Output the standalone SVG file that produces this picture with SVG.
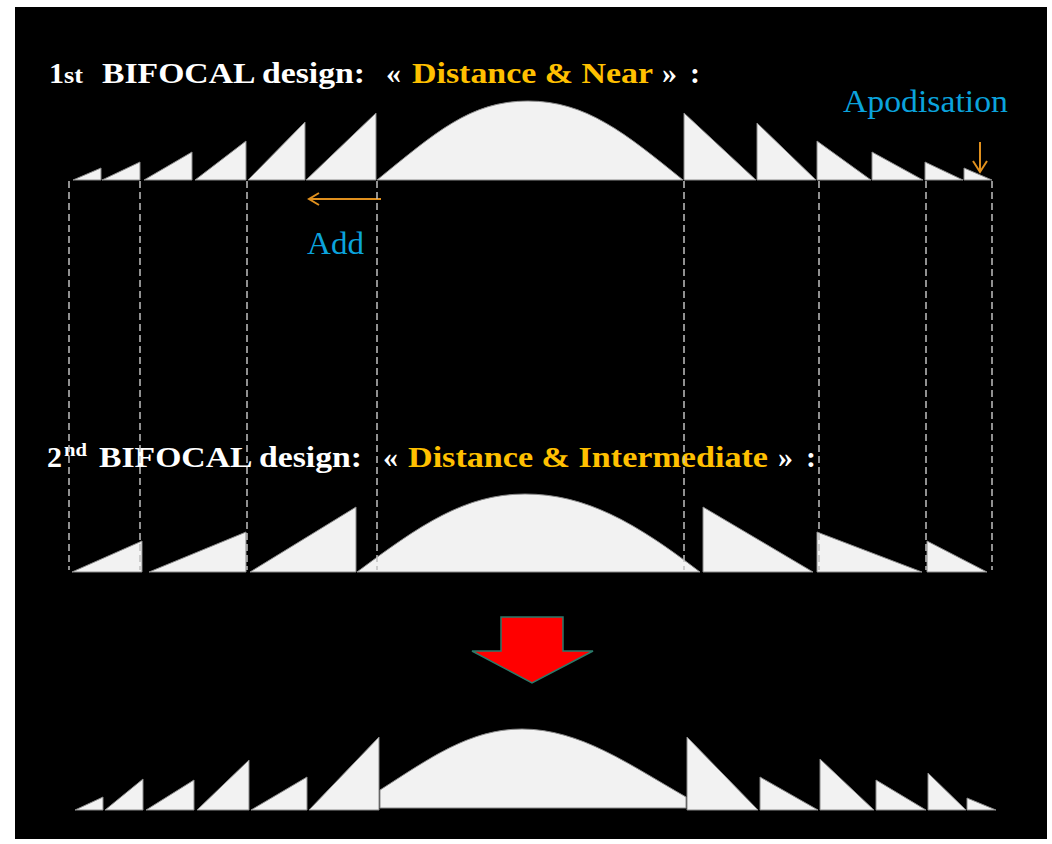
<svg xmlns="http://www.w3.org/2000/svg" width="1052" height="844" viewBox="0 0 1052 844">
<defs>
<style>
.ttl{font-family:"Liberation Serif","Times New Roman",serif;font-weight:bold;font-size:30px;fill:#ffffff;white-space:pre}
.org{fill:#FFC000}
.lbl{font-family:"Liberation Serif","Times New Roman",serif;font-size:31px;fill:#0BA3DC}
.tri{fill:#f2f2f2;stroke:#8a8a8a;stroke-width:1;stroke-linejoin:miter}
.dash{stroke:#c0c0c0;stroke-width:1.5;stroke-dasharray:7 4;fill:none}
.oarr{stroke:#E0901E;stroke-width:2;fill:none}
</style>
</defs>
<rect x="0" y="0" width="1052" height="844" fill="#ffffff"/>
<rect x="15" y="7" width="1032" height="832" fill="#000000"/>

<g id="title1">
<text class="ttl" x="49" y="83">1</text>
<text class="ttl" x="64" y="83" style="font-size:23px" textLength="19" lengthAdjust="spacingAndGlyphs">st</text>
<text class="ttl" x="102" y="83" textLength="263" lengthAdjust="spacingAndGlyphs">BIFOCAL design:</text>
<text class="ttl" x="386" y="83">«</text>
<text class="ttl org" x="412" y="83" textLength="241" lengthAdjust="spacingAndGlyphs">Distance &amp; Near</text>
<text class="ttl" x="662" y="83">»</text>
<text class="ttl" x="690" y="83">:</text>
</g>

<g id="row1">
<polygon class="tri" points="73,180 101,180 101,168"/>
<polygon class="tri" points="102,180 140,180 140,162"/>
<polygon class="tri" points="144,180 192,180 192,152"/>
<polygon class="tri" points="195,180 246,180 246,141"/>
<polygon class="tri" points="248,180 305,180 305,122"/>
<polygon class="tri" points="306,180 376,180 376,113"/>
<path class="tri" d="M377,180 C435,133 470,101 528,101 C586,101 625,133 683,180 Z"/>
<polygon class="tri" points="684,180 684,113 756,180"/>
<polygon class="tri" points="757,180 757,123 816,180"/>
<polygon class="tri" points="817,180 817,141 871,180"/>
<polygon class="tri" points="872,180 872,152 923,180"/>
<polygon class="tri" points="925,180 925,162 963,180"/>
<polygon class="tri" points="964,180 964,168 992,180"/>
</g>

<g id="add-label">
<path class="oarr" d="M381,199 H309 M319,193 L309,199 L319,205"/>
<text class="lbl" x="307" y="254" textLength="57" lengthAdjust="spacingAndGlyphs">Add</text>
</g>

<g id="apodisation-label">
<text class="lbl" x="843" y="112" textLength="165" lengthAdjust="spacingAndGlyphs">Apodisation</text>
<path class="oarr" d="M980,142 V172 M973,161 L980,172 L987,161"/>
</g>

<g id="title2">
<text class="ttl" x="47" y="467">2</text>
<text class="ttl" x="64" y="456" style="font-size:19px" textLength="23" lengthAdjust="spacingAndGlyphs">nd</text>
<text class="ttl" x="99" y="467" textLength="263" lengthAdjust="spacingAndGlyphs">BIFOCAL design:</text>
<text class="ttl" x="383" y="467">«</text>
<text class="ttl org" x="408" y="467" textLength="360" lengthAdjust="spacingAndGlyphs">Distance &amp; Intermediate</text>
<text class="ttl" x="778" y="467">»</text>
<text class="ttl" x="806" y="467">:</text>
</g>

<g id="row2">
<polygon class="tri" points="72,572 142,572 142,541"/>
<polygon class="tri" points="149,572 246,572 246,532"/>
<polygon class="tri" points="250,572 356,572 356,507"/>
<path class="tri" d="M357,572 C420,525 465,494 525,494 C585,494 635,522 700,572 Z"/>
<polygon class="tri" points="703,572 703,507 813,572"/>
<polygon class="tri" points="817,572 817,532 922,572"/>
<polygon class="tri" points="927,572 927,541 987,572"/>
</g>

<g id="connectors">
<line class="dash" x1="69" y1="181" x2="69" y2="570"/>
<line class="dash" x1="140" y1="181" x2="140" y2="570"/>
<line class="dash" x1="247" y1="181" x2="247" y2="570"/>
<line class="dash" x1="377" y1="181" x2="377" y2="570"/>
<line class="dash" x1="684" y1="181" x2="684" y2="570"/>
<line class="dash" x1="819" y1="181" x2="819" y2="570"/>
<line class="dash" x1="926" y1="181" x2="926" y2="570"/>
<line class="dash" x1="992" y1="181" x2="992" y2="570"/>
</g>

<g id="red-arrow">
<polygon points="501,617 563,617 563,651 593,651 532,683 472,651 501,651" fill="#ff0000" stroke="#2a7a6a" stroke-width="1.5"/>
</g>

<g id="row3">
<polygon class="tri" points="75,810 103,810 103,797"/>
<polygon class="tri" points="105,810 143,810 143,779"/>
<polygon class="tri" points="146,810 194,810 194,780"/>
<polygon class="tri" points="197,810 249,810 249,760"/>
<polygon class="tri" points="251,810 307,810 307,777"/>
<polygon class="tri" points="309,810 379,810 379,737"/>
<path class="tri" d="M380,808 L380,790 C430,758 470,729 522,729 C580,729 630,765 686,797 L686,808 Z"/>
<polygon class="tri" points="687,810 687,737 758,810"/>
<polygon class="tri" points="760,810 760,777 818,810"/>
<polygon class="tri" points="820,810 820,759 874,810"/>
<polygon class="tri" points="876,810 876,780 926,810"/>
<polygon class="tri" points="928,810 928,773 966,810"/>
<polygon class="tri" points="967,810 967,798 996,810"/>
</g>
</svg>
